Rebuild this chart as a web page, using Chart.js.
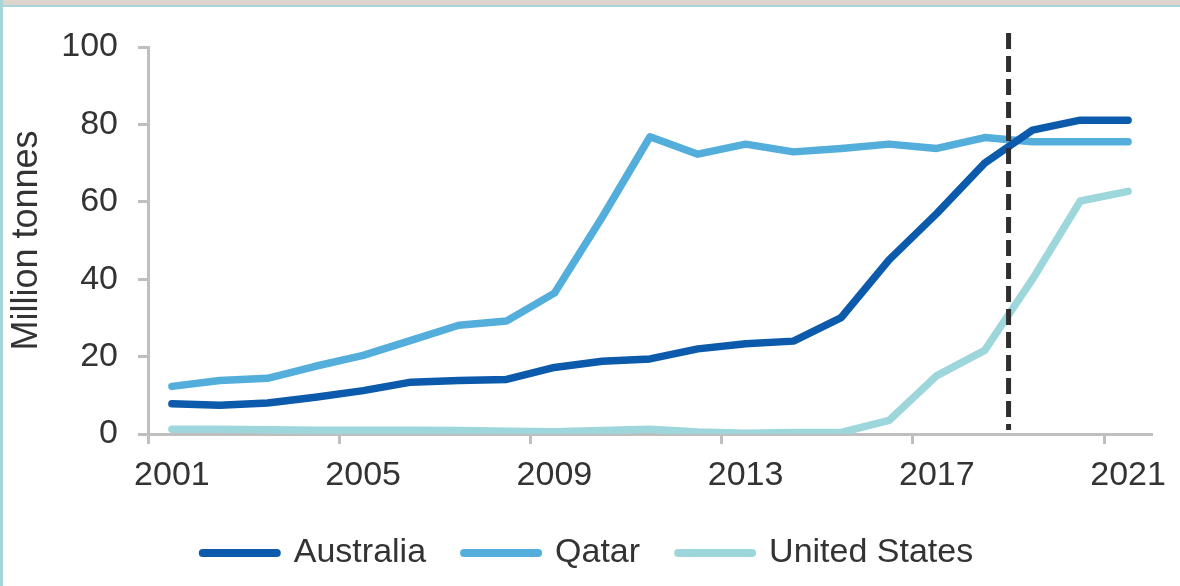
<!DOCTYPE html>
<html lang="en">
<head>
    <meta charset="UTF-8">
    <title>LNG exports</title>
    <script src="https://cdn.jsdelivr.net/npm/chart.js"></script>
    <style>
        html, body { margin: 0; padding: 0; background: #fff; }
        .wrap { position: relative; width: 1180px; height: 586px; overflow: hidden; }
        .frame-top { position: absolute; left: 0; top: 0; width: 1180px; height: 5px; background: #ddd4cc; border-bottom: 2px solid #a8d5d9; }
        .frame-left { position: absolute; left: 0; top: 0; width: 3px; height: 586px; background: #a8d5d9; }
    </style>
</head>
<body>
    <div class="wrap">
        <canvas id="chart" width="1180" height="586"></canvas>
        <div class="frame-top"></div>
        <div class="frame-left"></div>
    </div>

    <script>
        const years = ['2001', '2002', '2003', '2004', '2005', '2006', '2007', '2008', '2009', '2010', '2011',
                       '2012', '2013', '2014', '2015', '2016', '2017', '2018', '2019', '2020', '2021'];
        const australia = [7.8, 7.4, 8.0, 9.5, 11.2, 13.4, 13.8, 14.1, 17.2, 18.8, 19.4,
                           22.0, 23.3, 24.0, 30.1, 45.0, 57.0, 70.0, 78.5, 81.1, 81.1];
        const qatar = [12.3, 13.8, 14.4, 17.5, 20.3, 24.2, 28.1, 29.2, 36.4, 56.0, 76.8,
                       72.3, 74.9, 72.9, 73.8, 74.9, 73.8, 76.6, 75.5, 75.5, 75.5];
        const unitedStates = [1.2, 1.2, 1.1, 1.0, 1.0, 1.0, 0.9, 0.7, 0.6, 0.9, 1.2,
                              0.5, 0.2, 0.4, 0.4, 3.5, 15.1, 21.6, 40.0, 60.2, 62.7];
        const yTicks = [0, 20, 40, 60, 80, 100];
        // dashed marker sits on the boundary between these two years
        const markerBetween = ['2018', '2019'];

        const axisGrey = '#bfbfbf';
        const textColor = '#333333';
        const fontFamily = '"Liberation Sans", Arial, sans-serif';

        const dashedMarker = {
            id: 'dashedMarker',
            afterDatasetsDraw(chart) {
                const x = chart.scales.x;
                const a = x.getPixelForValue(years.indexOf(markerBetween[0]));
                const b = x.getPixelForValue(years.indexOf(markerBetween[1]));
                const px = (a + b) / 2;
                const ctx = chart.ctx;
                ctx.save();
                ctx.strokeStyle = '#2e2e2e';
                ctx.lineWidth = 5;
                ctx.setLineDash([16, 7]);
                ctx.beginPath();
                ctx.moveTo(px, 33);
                ctx.lineTo(px, chart.chartArea.bottom - 4);
                ctx.stroke();
                ctx.restore();
            }
        };

        const series = [
            { label: 'Australia', data: australia, color: '#0c5aab' },
            { label: 'Qatar', data: qatar, color: '#53aedc' },
            { label: 'United States', data: unitedStates, color: '#9dd6db' }
        ];

        new Chart(document.getElementById('chart'), {
            type: 'line',
            data: {
                labels: years,
                datasets: series.map(s => ({
                    label: s.label,
                    data: s.data,
                    borderColor: s.color,
                    backgroundColor: s.color,
                    borderWidth: 7.5,
                    borderCapStyle: 'round',
                    borderJoinStyle: 'round',
                    pointRadius: 0,
                    tension: 0,
                    fill: false
                }))
            },
            options: {
                responsive: false,
                animation: false,
                layout: { padding: { top: 47, right: 4, bottom: 6, left: 0 } },
                plugins: {
                    tooltip: { enabled: false },
                    legend: {
                        position: 'bottom',
                        labels: {
                            usePointStyle: true,
                            pointStyleWidth: 74,
                            padding: 38,
                            color: textColor,
                            font: { family: fontFamily, size: 34 },
                            generateLabels: (chart) => chart.data.datasets.map((d, i) => ({
                                text: d.label,
                                datasetIndex: i,
                                pointStyle: 'line',
                                strokeStyle: d.borderColor,
                                fillStyle: d.borderColor,
                                lineWidth: 8,
                                lineCap: 'round',
                                fontColor: textColor
                            }))
                        }
                    }
                },
                scales: {
                    x: {
                        type: 'category',
                        offset: true,
                        afterFit: (scale) => { scale.height = 64; },
                        grid: {
                            offset: true,
                            drawOnChartArea: false,
                            tickLength: 10,
                            tickWidth: 3,
                            tickColor: (ctx) => (ctx.index % 4 === 0 ? axisGrey : 'rgba(0,0,0,0)')
                        },
                        border: { color: axisGrey, width: 3 },
                        ticks: {
                            autoSkip: false,
                            maxRotation: 0,
                            padding: 11,
                            color: textColor,
                            font: { family: fontFamily, size: 34 },
                            callback: (v, i) => (i % 4 === 0 ? years[i] : '')
                        }
                    },
                    y: {
                        min: yTicks[0],
                        max: yTicks[yTicks.length - 1],
                        afterFit: (scale) => { scale.width = 148; },
                        afterBuildTicks: (scale) => { scale.ticks = yTicks.map(v => ({ value: v })); },
                        grid: {
                            drawOnChartArea: false,
                            tickLength: 10,
                            tickWidth: 3,
                            tickColor: axisGrey
                        },
                        border: { color: axisGrey, width: 3 },
                        ticks: {
                            padding: 20,
                            color: textColor,
                            font: { family: fontFamily, size: 34 }
                        },
                        title: {
                            display: true,
                            text: 'Million tonnes',
                            color: textColor,
                            padding: { top: 5, bottom: 0 },
                            font: { family: fontFamily, size: 36 }
                        }
                    },
                    // empty spacer on the right so the plot ends short of the edge
                    spacer: {
                        position: 'right',
                        afterFit: (scale) => { scale.width = 24; },
                        grid: { display: false },
                        border: { display: false },
                        ticks: { display: false }
                    }
                }
            },
            plugins: [dashedMarker]
        });
    </script>
</body>
</html>
